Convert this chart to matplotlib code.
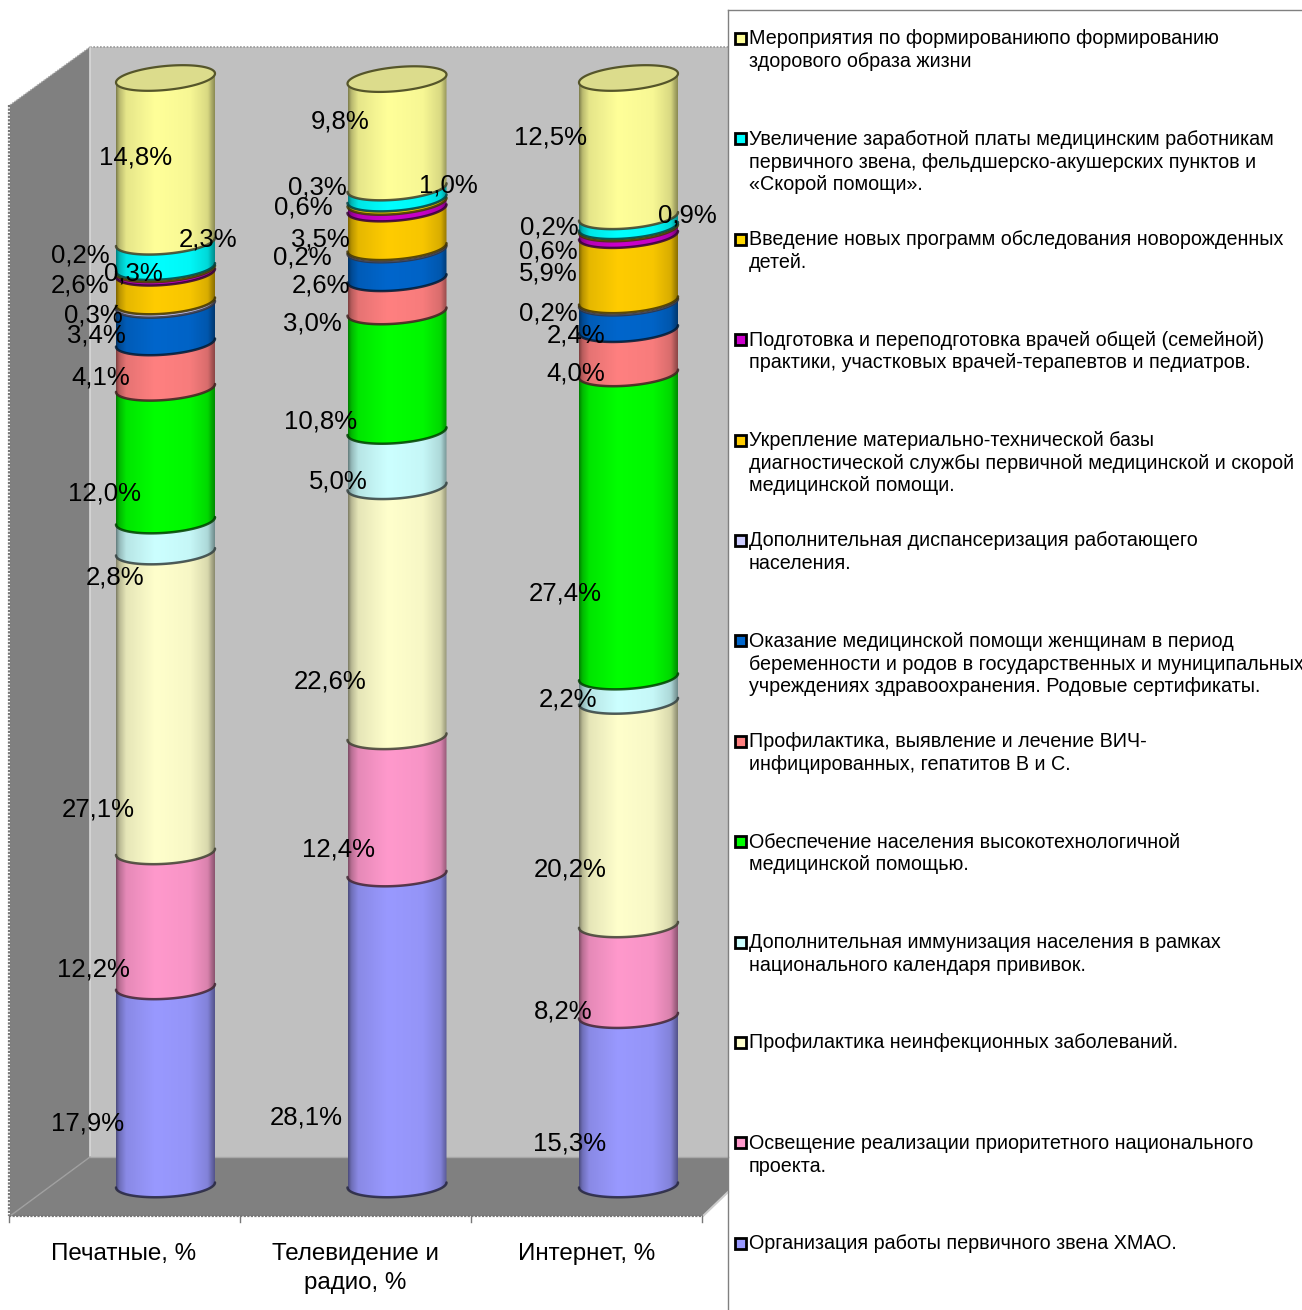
#!/usr/bin/env python3
import numpy as np
import matplotlib
matplotlib.use("Agg")
import matplotlib.pyplot as plt
from matplotlib.colors import to_rgb
from matplotlib.patches import Polygon, Rectangle

plt.rcParams["font.family"] = ["Liberation Sans", "DejaVu Sans"]

categories = [["Печатные, %"], ["Телевидение и", "радио, %"], ["Интернет, %"]]

# bottom to top of each stack
print_vals = [17.9, 12.2, 27.1, 2.8, 12.0, 4.1, 3.4, 0.3, 2.6, 0.3, 0.2, 2.3, 14.8]
tv_vals = [28.1, 12.4, 22.6, 5.0, 10.8, 3.0, 2.6, 0.2, 3.5, 0.6, 0.3, 1.0, 9.8]
web_vals = [15.3, 8.2, 20.2, 2.2, 27.4, 4.0, 2.4, 0.2, 5.9, 0.6, 0.2, 0.9, 12.5]

series_names = [
    ["Организация работы первичного звена ХМАО."],
    ["Освещение реализации приоритетного национального", "проекта."],
    ["Профилактика неинфекционных заболеваний."],
    ["Дополнительная иммунизация населения в рамках", "национального календаря прививок."],
    ["Обеспечение населения высокотехнологичной", "медицинской помощью."],
    ["Профилактика, выявление и лечение ВИЧ-", "инфицированных, гепатитов В и С."],
    ["Оказание медицинской помощи женщинам в период",
     "беременности и родов в государственных и муниципальных",
     "учреждениях здравоохранения. Родовые сертификаты."],
    ["Дополнительная диспансеризация работающего", "населения."],
    ["Укрепление материально-технической базы",
     "диагностической службы первичной медицинской и скорой",
     "медицинской помощи."],
    ["Подготовка и переподготовка врачей общей (семейной)",
     "практики, участковых врачей-терапевтов и педиатров."],
    ["Введение новых программ обследования новорожденных", "детей."],
    ["Увеличение заработной платы медицинским работникам",
     "первичного звена, фельдшерско-акушерских пунктов и",
     "«Скорой помощи»."],
    ["Мероприятия по формированиюпо формированию", "здорового образа жизни"],
]
colors = ["#9999FF", "#FF99CC", "#FFFFCC", "#CCFFFF", "#00FF00", "#FF8080", "#0066CC",
          "#CCCCFF", "#FFCC00", "#CC00CC", "#FFD800", "#00FFFF", "#FFFF99"]

# hand-placed label centres, pixels, same order as the values
print_lab = [(88, 1122), (93, 968), (98, 807), (115, 576), (104, 491), (101, 376), (96, 334),
             (93, 313), (80, 283), (133, 272), (80, 254), (208, 237), (136, 156)]
tv_lab = [(306, 1116), (338, 848), (330, 680), (338, 479), (321, 420), (312, 321), (321, 283),
          (302, 256), (320, 237), (303, 206), (317, 185), (448, 183), (340, 120)]
web_lab = [(570, 1141), (563, 1009), (570, 868), (568, 697), (565, 591), (576, 372), (576, 334),
           (548, 311), (548, 272), (548, 249), (549, 226), (687, 214), (551, 136)]

W, H = 1302, 1310
fig = plt.figure(figsize=(W / 100, H / 100), dpi=100, facecolor="white")

# pixel axes for the chart box, legend and texts
bg = fig.add_axes([0, 0, 1, 1], zorder=0)
bg.set_xlim(0, W)
bg.set_ylim(H, 0)
bg.axis("off")

bg.add_patch(Polygon([(90, 47), (728, 47), (728, 1157), (90, 1157)], fc="#C0C0C0", ec="none"))
bg.add_patch(Polygon([(10, 105), (90, 47), (90, 1157), (10, 1216)], fc="#808080", ec="none"))
bg.add_patch(Polygon([(90, 1157), (728, 1157), (728, 1192), (703, 1216), (10, 1216)], fc="#808080", ec="none"))
bg.plot([90, 728], [47, 47], color="#999999", lw=1.2, ls=(0, (1, 1)))
bg.plot([90, 90], [47, 1157], color="#D8D8D8", lw=1.2)
bg.plot([90, 728], [1157, 1157], color="#A8A8A8", lw=1)
bg.plot([10, 90], [105, 47], color="#AAAAAA", lw=1, ls=(0, (1, 1)))
bg.plot([90, 10], [1157, 1216], color="#A0A0A0", lw=1)
bg.plot([703, 728], [1216, 1192], color="#CCCCCC", lw=1.5)
bg.plot([9, 703], [1216, 1216], color="#777777", lw=1.6, ls=(0, (1, 0.6)))
bg.plot([9, 9], [105, 1216], color="#777777", lw=1.6, ls=(0, (1, 0.6)))
for tx in [9, 240, 471, 702]:
    bg.plot([tx, tx], [1216, 1222], color="#777777", lw=1)

# chart axes: x is the category index, y is the cumulative percentage
ax = fig.add_axes([0, 0, 1, 1], zorder=1)
ax.patch.set_alpha(0)
ax.axis("off")
y0_px, y100_px = 1185, 78
ppu = (y0_px - y100_px) / 100
x0_px, step_px = 165.5, 231.5
ax.set_xlim((0 - x0_px) / step_px, (W - x0_px) / step_px)
ax.set_ylim((y0_px - H) / ppu, y0_px / ppu)

half_w = 49.5 / step_px
b_pct = 12 / ppu


def tilt(y):
    return (2.5 + 2.0 * y / 100) / ppu


def ellipse_arc(cx, y, t):
    return cx + half_w * np.cos(t), y + b_pct * np.sin(t) + tilt(y) * np.cos(t)


shade = np.interp(np.linspace(0, 1, 120), [0, 0.03, 0.1, 0.4, 0.75, 0.93, 1],
                  [0.5, 0.72, 0.9, 1.0, 0.97, 0.85, 0.55])

stacks = [print_vals, tv_vals, web_vals]
for i, vals in enumerate(stacks):
    bottom = 0.0
    ext = [i - half_w, i + half_w, -2, 103]
    for val, col in zip(vals, colors):
        top = bottom + val
        t_low = np.linspace(np.pi, 2 * np.pi, 60)
        t_up = np.linspace(2 * np.pi, np.pi, 60)
        xl, yl = ellipse_arc(i, bottom, t_low)
        xu, yu = ellipse_arc(i, top, t_up)
        poly = Polygon(np.column_stack([np.r_[xl, xu], np.r_[yl, yu]]), transform=ax.transData,
                       fc="none", ec="none")
        ax.add_patch(poly)
        grad = np.array(to_rgb(col))[None, None, :] * shade[None, :, None]
        im = ax.imshow(grad, extent=ext, aspect="auto", origin="lower", interpolation="bilinear", zorder=2)
        im.set_clip_path(poly)
        dark = tuple(0.25 * c for c in to_rgb(col))
        ax.plot(xl, yl, color=dark, lw=1.8, alpha=0.85, zorder=3, solid_capstyle="round")
        bottom = top
    # top cap
    t = np.linspace(0, 2 * np.pi, 120)
    xc, yc = ellipse_arc(i, bottom, t)
    ax.fill(xc, yc, fc="#DCDC8C", ec="#55552A", lw=1.6, zorder=4)

ax.set_xlim((0 - x0_px) / step_px, (W - x0_px) / step_px)
ax.set_ylim((y0_px - H) / ppu, y0_px / ppu)

# texts on top
fg = fig.add_axes([0, 0, 1, 1], zorder=2)
fg.patch.set_alpha(0)
fg.set_xlim(0, W)
fg.set_ylim(H, 0)
fg.axis("off")

for vals, labs in zip(stacks, [print_lab, tv_lab, web_lab]):
    for v, (lx, ly) in zip(vals, labs):
        fg.text(lx, ly + 9, f"{v:.1f}%".replace(".", ","), ha="center", va="baseline",
                fontsize=18.5, color="black")

for lines, cx in zip(categories, [124, 355, 587]):
    for j, line in enumerate(lines):
        fg.text(cx, 1260 + 29.5 * j, line, ha="center", va="baseline", fontsize=17.4, color="black")

# legend, top entry first
fg.plot([728, 728], [10, H], color="#808080", lw=1)
fg.plot([728, W], [10, 10], color="#808080", lw=1)
n = len(colors)
for k in range(n):
    idx = n - 1 - k
    yc = 38 + 100.4 * k
    fg.add_patch(Rectangle((735, yc - 5), 11, 11, fc=colors[idx], ec="black", lw=2))
    for j, line in enumerate(series_names[idx]):
        fg.text(749, yc + 6.5 + 22.6 * j, line, ha="left", va="baseline", fontsize=14.2, color="black")

fig.savefig("out.png", dpi=100)
plt.close(fig)
